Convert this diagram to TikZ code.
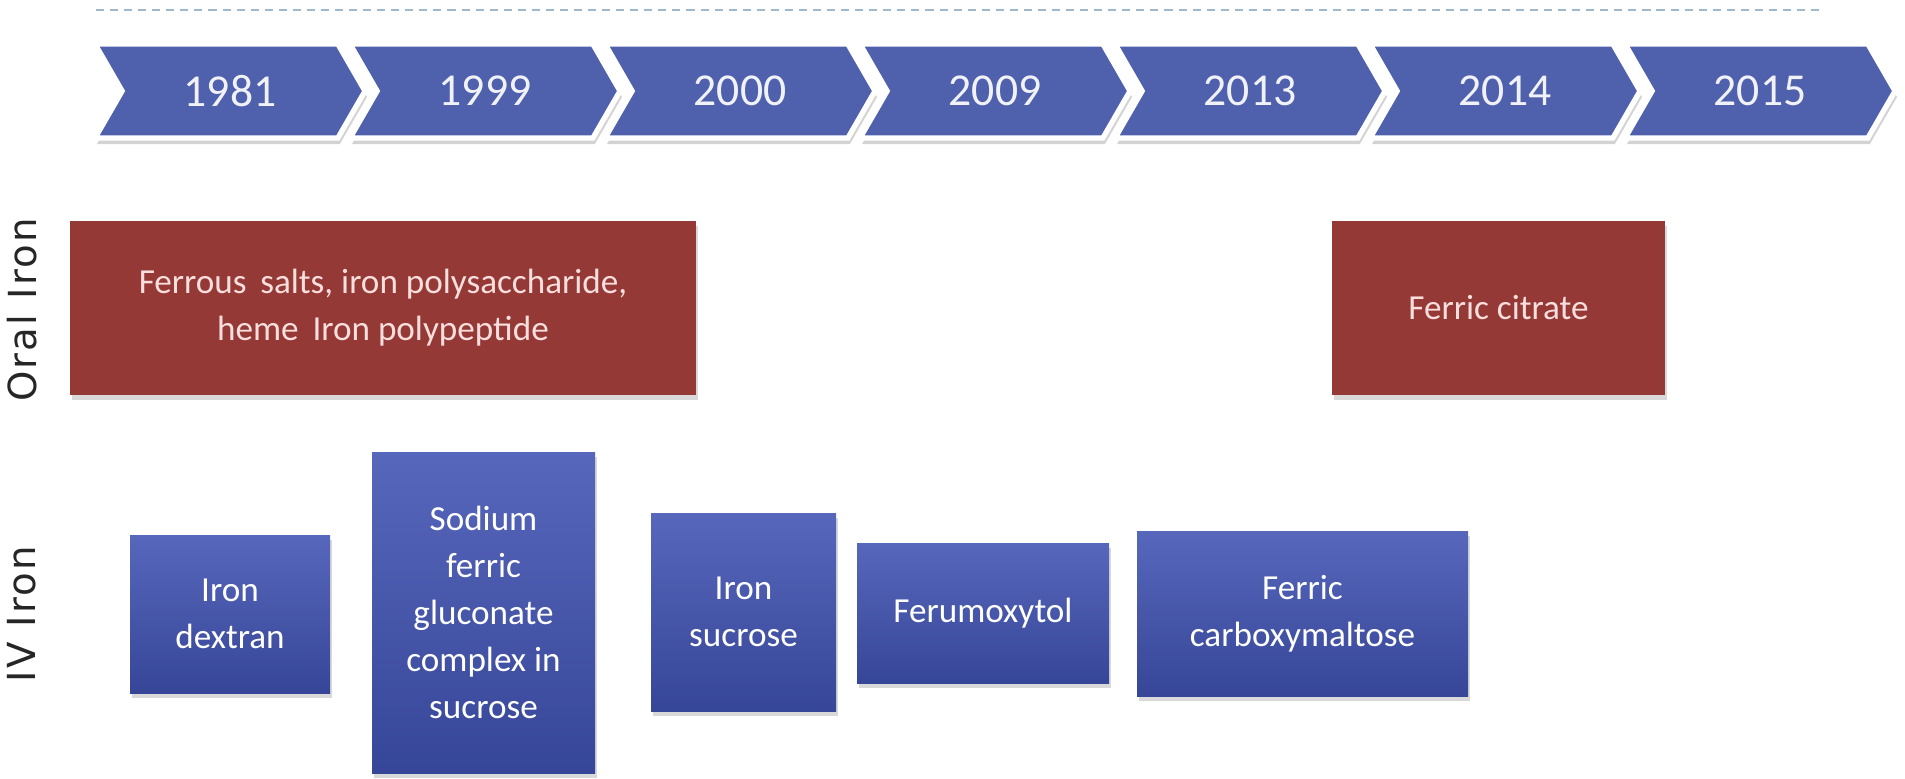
\documentclass[tikz,border=0pt]{standalone}
\usepackage{fontspec}
\setmainfont{Carlito}
\newfontfamily\sidefont[LetterSpace=6]{DejaVu Sans}
\definecolor{tlblue}{RGB}{79,97,173}
\definecolor{ivblue}{RGB}{64,82,178}
\definecolor{oralred}{RGB}{149,57,55}
\definecolor{oraltext}{RGB}{248,222,220}
\definecolor{rulegray}{RGB}{160,184,204}
\usetikzlibrary{shapes.symbols,shadows}

\tikzset{
  year/.style={signal, signal to=east, signal from=west, signal pointer angle=120,
    minimum width=2.70cm, minimum height=0.94cm, inner sep=0pt,
    fill=tlblue, draw=white, line width=1.5pt, text=white!92!tlblue,
    font=\fontsize{13}{15}\selectfont,
    drop shadow={opacity=0.35, shadow xshift=0.02cm, shadow yshift=-0.06cm}},
  oralbox/.style={fill=oralred, text=oraltext, align=center, inner sep=0pt,
    font=\fontsize{10}{13.4}\selectfont,
    drop shadow={opacity=0.3, shadow xshift=0.02cm, shadow yshift=-0.05cm}},
  ivbox/.style={top color=ivblue!88!white, bottom color=ivblue!85!black, text=white,
    align=center, inner sep=0pt, font=\fontsize{10}{13.4}\selectfont,
    drop shadow={opacity=0.3, shadow xshift=0.02cm, shadow yshift=-0.05cm}},
  rowlabel/.style={rotate=90, font=\sidefont\fontsize{11}{13}\selectfont, text=black!85}
}

\begin{document}
\begin{tikzpicture}
  \useasboundingbox (0,0) rectangle (19.05,-7.78);

  % Top rule
  \draw[rulegray, dash pattern=on 2.3pt off 1.7pt, line width=0.7pt] (0.96,-0.10) -- (18.23,-0.10);

  % Timeline
  \foreach \yr [count=\i from 0] in {1981,1999,2000,2009,2013,2014,2015}
    \node[year] (y\yr) at ({2.30+2.55*\i},-0.91) {\yr};

  % Row labels
  \node[rowlabel] (oral) at (0.22,-3.10) {Oral Iron};
  \node[rowlabel] (iv) at (0.22,-6.14) {IV Iron};

  % Oral iron
  \node[oralbox, minimum width=6.26cm, minimum height=1.74cm] (ferrous) at (3.83,-3.08)
    {Ferrous\, salts, iron polysaccharide,\\heme\, Iron polypeptide};
  \node[oralbox, minimum width=3.33cm, minimum height=1.74cm] (citrate) at (14.985,-3.08)
    {Ferric citrate};

  % IV iron
  \node[ivbox, minimum width=2.00cm, minimum height=1.58cm] (dextran) at (2.30,-6.14)
    {Iron\\dextran};
  \node[ivbox, minimum width=2.23cm, minimum height=3.21cm] (gluconate) at (4.835,-6.125)
    {Sodium\\ferric\\gluconate\\complex in\\sucrose};
  \node[ivbox, minimum width=1.85cm, minimum height=1.98cm] (sucrose) at (7.435,-6.12)
    {Iron\\sucrose};
  \node[ivbox, minimum width=2.52cm, minimum height=1.40cm] (ferumox) at (9.83,-6.13)
    {Ferumoxytol};
  \node[ivbox, minimum width=3.31cm, minimum height=1.65cm] (carboxy) at (13.025,-6.135)
    {Ferric\\carboxymaltose};
\end{tikzpicture}
\end{document}
